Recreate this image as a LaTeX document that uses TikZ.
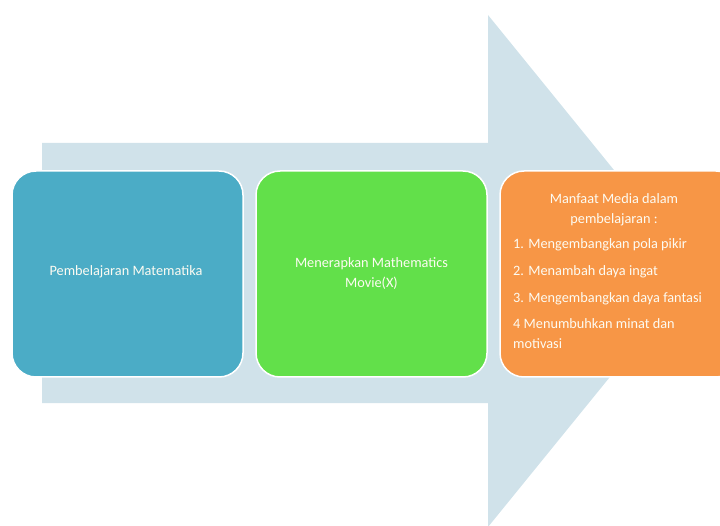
\documentclass[tikz,border=0pt]{standalone}
\usepackage{fontspec}
\setmainfont{Carlito}
\definecolor{arrowbg}{HTML}{D0E2EA}
\definecolor{boxblue}{HTML}{4BACC6}
\definecolor{boxgreen}{HTML}{62E04A}
\definecolor{boxorange}{HTML}{F79646}
\definecolor{txtwhite}{HTML}{FDFBF2}
\begin{document}
\begin{tikzpicture}[x=1pt,y=-1pt,
  stepbox/.style={draw=white,line width=1.5pt,rounded corners=24pt},
  txt/.style={text=txtwhite,font=\fontsize{14.3}{20}\selectfont,inner sep=0pt}]
\useasboundingbox (0,0) rectangle (720,526);
\clip (0,0) rectangle (720,526);
% big arrow
\fill[arrowbg] (42,143) -- (488,143) -- (488,15) -- (696,271) -- (488,527) -- (488,403) -- (42,403) -- cycle;
% boxes
\filldraw[stepbox,fill=boxblue] (12,171) rectangle (243,377);
\filldraw[stepbox,fill=boxgreen] (256,171) rectangle (487,377);
\filldraw[stepbox,fill=boxorange] (500,171) rectangle (740,377);
\node[txt] (a) at (126,272) {Pembelajaran Matematika};
\node[txt,align=center] (b) at (371.5,274) {Menerapkan Mathematics\\Movie(X)};
\node[txt,align=center] (c1) at (614,210) {Manfaat Media dalam\\pembelajaran :};
\node[txt,anchor=west] (c2) at (513,245) {1. Mengembangkan pola pikir};
\node[txt,anchor=west] (c3) at (513,272) {2. Menambah daya ingat};
\node[txt,anchor=west] (c4) at (513,299) {3. Mengembangkan daya fantasi};
\node[txt,anchor=west,align=left] (c5) at (513,334) {4 Menumbuhkan minat dan\\motivasi};
\end{tikzpicture}
\end{document}
